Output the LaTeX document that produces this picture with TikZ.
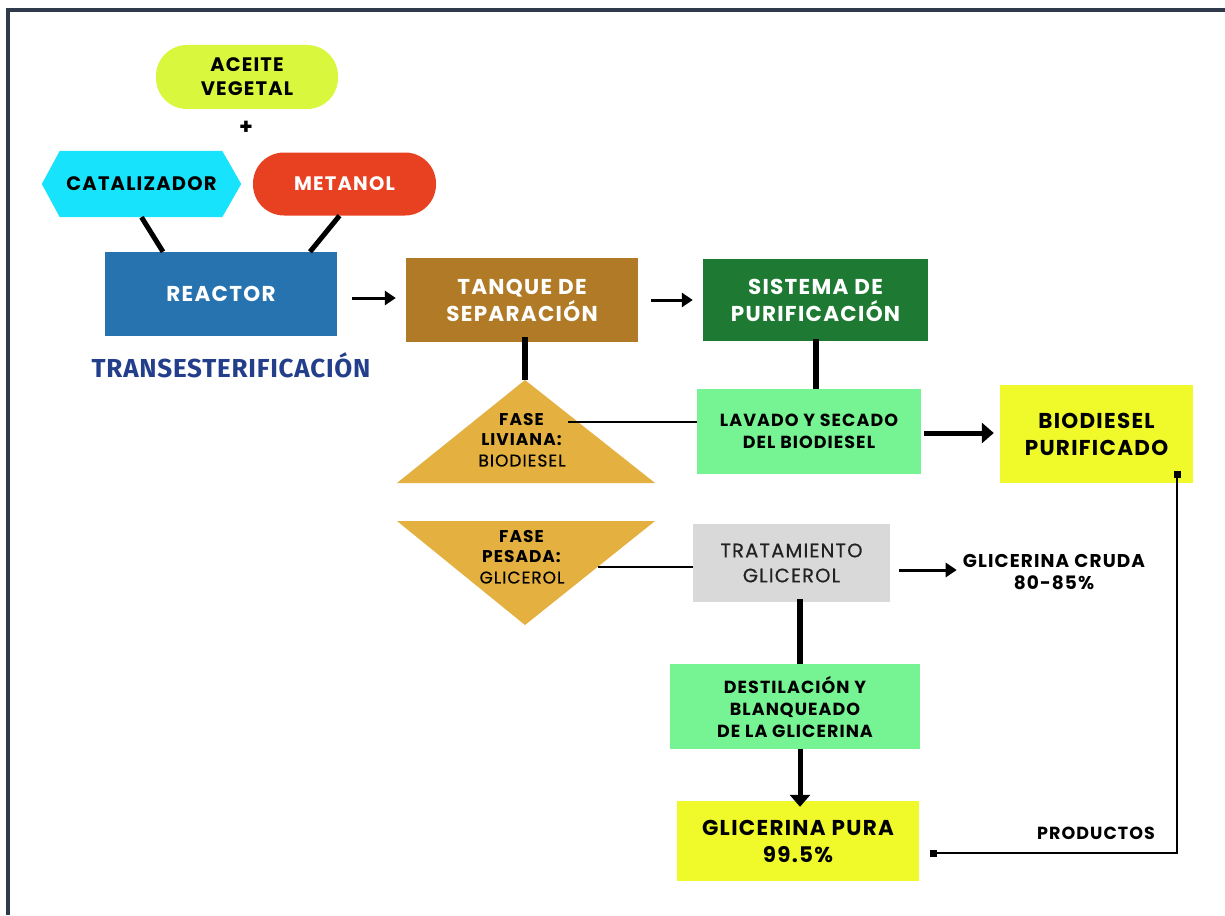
\documentclass[tikz,border=0pt]{standalone}
\usepackage{fontspec}
\setmainfont{Poppins}[LetterSpace=6]
\newfontfamily\ttlfont{Fira Sans}[LetterSpace=3]
\usetikzlibrary{arrows.meta,calc,backgrounds}
\definecolor{framec}{HTML}{2F3A4B}
\definecolor{limec}{HTML}{D9F83D}
\definecolor{cyanc}{HTML}{17E3FD}
\definecolor{redc}{HTML}{E84122}
\definecolor{bluec}{HTML}{2773B0}
\definecolor{navyc}{HTML}{233E8B}
\definecolor{brownc}{HTML}{B07A26}
\definecolor{greenc}{HTML}{1E7A32}
\definecolor{lgreenc}{HTML}{76F493}
\definecolor{yellowc}{HTML}{F0FA2A}
\definecolor{goldc}{HTML}{E4B040}
\definecolor{grayc}{HTML}{D9D9D9}
\definecolor{txtgray}{HTML}{222222}
\newcommand{\fntBig}{\bfseries\fontsize{21.5}{27}\selectfont}
\newcommand{\fntMid}{\bfseries\fontsize{19.5}{24}\selectfont}
\newcommand{\fntSmall}{\bfseries\fontsize{17.5}{22}\selectfont}
\newcommand{\medw}{\addfontfeatures{FakeBold=0.6}}
\tikzset{
  box/.style={rectangle, inner sep=0pt, align=center},
  pill/.style={box, rounded corners=31pt},
  bar/.style={line width=6pt, black},
  thinline/.style={line width=2pt, black},
  arr/.style={line width=3pt, black, -{Triangle[length=11pt,width=14pt]}},
  bigarr/.style={line width=5pt, black, -{Triangle[length=12pt,width=20pt]}},
  sqtip/.tip={Square[length=7pt,width=7pt]},
}
\begin{document}
\begin{tikzpicture}[x=1pt,y=-1pt]
\useasboundingbox (0,0) rectangle (1225,915);
\begin{scope}[on background layer]
  \fill[white] (0,0) rectangle (1225,915);
\end{scope}
% frame
\draw[framec, line width=4pt] (8,915) -- (8,10) -- (1225,10);

% inputs
\node[pill, fill=limec, minimum width=182pt, minimum height=64pt, font=\fntMid, text=black] (aceite) at (247,77) {ACEITE\\VEGETAL};
\node[font=\bfseries\fontsize{22}{22}\selectfont] (plus) at (246,128) {+};
\node[box, minimum width=199pt, minimum height=66pt, font=\fntMid, text=black] (cat) at (141.5,184) {CATALIZADOR};
\begin{scope}[on background layer]
  \fill[cyanc] (cat.west) -- ([xshift=18pt]cat.north west) -- ([xshift=-19pt]cat.north east)
    -- (cat.east) -- ([xshift=-19pt]cat.south east) -- ([xshift=18pt]cat.south west) -- cycle;
\end{scope}
\node[pill, fill=redc, minimum width=183pt, minimum height=63pt, font=\fntMid, text=white] (met) at (344.5,184) {METANOL};

% reactor
\node[box, fill=bluec, minimum width=232pt, minimum height=84pt, text=white] (reactor) at (221,294) {\fntBig\raisebox{-2pt}{REACTOR}};
\node[font=\ttlfont\bfseries\fontsize{26}{26}\selectfont, text=navyc] (trans) at (231,365) {TRANSESTERIFICACIÓN};
\draw[line width=5pt] (cat.south) -- ([xshift=-58pt]reactor.north);
\draw[line width=5pt] ([xshift=-5pt]met.south) -- ([xshift=89pt]reactor.north);

% separation / purification
\node[box, fill=brownc, minimum width=232pt, minimum height=84pt, font=\fntBig, text=white] (tanque) at (522,300) {TANQUE DE\\SEPARACIÓN};
\node[box, fill=greenc, minimum width=225pt, minimum height=82pt, font=\fntBig, text=white] (sist) at (815.5,300) {SISTEMA DE\\PURIFICACIÓN};
\draw[arr] ([xshift=15pt]reactor.east |- 0,298) -- ([xshift=-10pt]tanque.west |- 0,298);
\draw[arr] ([xshift=13pt]tanque.east) -- ([xshift=-10pt]sist.west);

% light phase
\coordinate (livtop) at (525,380);
\fill[goldc] (livtop) -- (655,483) -- (397,483) -- cycle;
\node[box, font=\fontsize{17}{20.5}\selectfont, text=black] (liv) at (522,440) {\textbf{FASE}\\\textbf{LIVIANA:}\\{\medw BIODIESEL}};
\draw[bar] ([yshift=5pt]tanque.south -| livtop) -- (livtop);
\coordinate (livR) at (568,422);

\node[box, fill=lgreenc, minimum width=224pt, minimum height=85pt, font=\fntSmall, text=black] (lav) at (809,431.5) {LAVADO Y SECADO\\DEL BIODIESEL};
\draw[thinline] (livR) -- (lav.west |- livR);
\draw[bar] ([yshift=2pt]sist.south) -- (sist.south |- lav.north);

\node[box, fill=yellowc, minimum width=193pt, minimum height=98pt, font=\fntBig, text=black] (bpur) at (1096.5,434) {BIODIESEL\\PURIFICADO};
\draw[bigarr] ([xshift=3pt]lav.east |- 0,433) -- ([xshift=-6pt]bpur.west |- 0,433);

% heavy phase
\coordinate (pesbot) at (525,625);
\fill[goldc] (397,521) -- (655,521) -- (pesbot) -- cycle;
\node[box, font=\fontsize{17}{20.5}\selectfont, text=black] (pes) at (522,557) {\textbf{FASE}\\\textbf{PESADA:}\\{\medw GLICEROL}};
\coordinate (pesR) at (598,567);

\node[box, fill=grayc, minimum width=197pt, minimum height=78pt, font=\fontsize{19.5}{25}\selectfont\medw, text=txtgray] (trat) at (791.5,563) {TRATAMIENTO\\GLICEROL};
\draw[thinline] (pesR) -- (trat.west |- pesR);

\node[box, font=\bfseries\fontsize{18.5}{22}\selectfont, text=black] (cruda) at (1054,572) {GLICERINA CRUDA\\80-85\%};
\draw[arr] ([xshift=9pt]trat.east |- 0,570) -- ([xshift=-6pt]cruda.west |- 0,570);

\node[box, fill=lgreenc, minimum width=250pt, minimum height=85pt, font=\fntSmall, text=black] (dest) at (795,706.5) {DESTILACIÓN Y\\BLANQUEADO\\DE LA GLICERINA};
\draw[bar] ([xshift=8.5pt,yshift=3pt]trat.south) -- ([xshift=8.5pt]trat.south |- dest.north);

\node[box, fill=yellowc, minimum width=242pt, minimum height=80pt, font=\fntBig, text=black] (gpura) at (798,841) {GLICERINA PURA\\99.5\%};
\draw[bigarr] ([xshift=5pt]dest.south) -- ([xshift=2pt,yshift=-6pt]gpura.north);

% products connector
\coordinate (pcorner) at (1177,853);
\draw[thinline, sqtip-sqtip] ([xshift=11pt]gpura.east |- pcorner) -- (pcorner) -- ([yshift=12pt]bpur.south -| pcorner);
\node[font=\fntSmall, text=black] (prod) at (1096,833) {PRODUCTOS};
\end{tikzpicture}
\end{document}
